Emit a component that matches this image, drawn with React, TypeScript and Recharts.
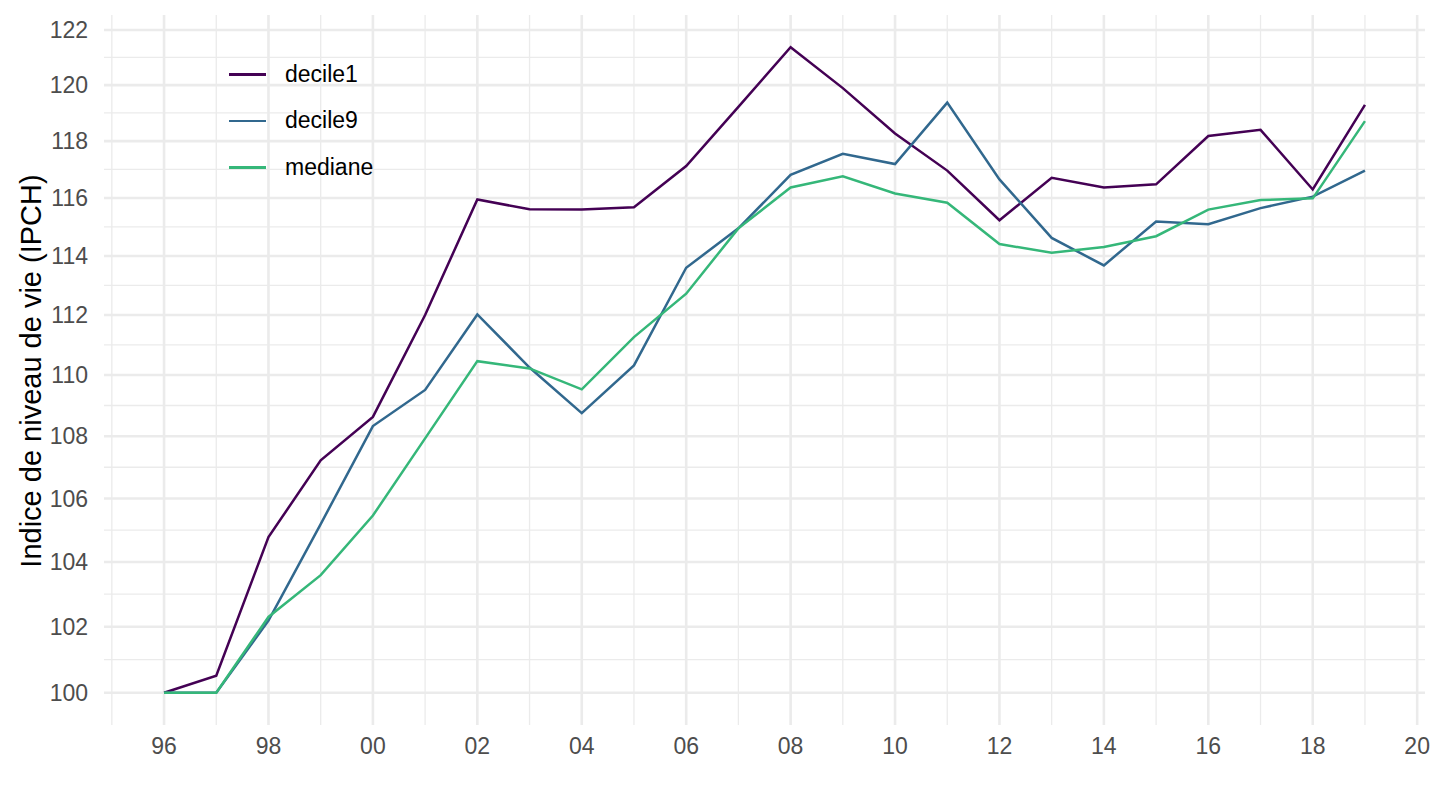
import { LineChart, Line, XAxis, YAxis, CartesianGrid, Label } from 'recharts';

const years = [1996, 1997, 1998, 1999, 2000, 2001, 2002, 2003, 2004, 2005, 2006, 2007, 2008, 2009, 2010, 2011, 2012, 2013, 2014, 2015, 2016, 2017, 2018, 2019];

const decile1 = [100, 100.51, 104.78, 107.22, 108.63, 112.0, 115.95, 115.61, 115.6, 115.68, 117.12, 119.22, 121.37, 119.89, 118.27, 116.96, 115.23, 116.71, 116.37, 116.48, 118.18, 118.4, 116.3, 119.29];
const decile9 = [100, 100, 102.19, 105.19, 108.33, 109.51, 112.02, 110.25, 108.75, 110.32, 113.6, 114.95, 116.81, 117.55, 117.19, 119.37, 116.65, 114.62, 113.68, 115.19, 115.09, 115.65, 116.05, 116.96];
const mediane = [100, 100, 102.3, 103.59, 105.46, 107.93, 110.46, 110.22, 109.53, 111.26, 112.72, 114.95, 116.37, 116.76, 116.16, 115.84, 114.41, 114.11, 114.31, 114.68, 115.6, 115.93, 115.99, 118.71];

const xTicks = [1996, 1998, 2000, 2002, 2004, 2006, 2008, 2010, 2012, 2014, 2016, 2018, 2020];
const xMinor = [1995, 1997, 1999, 2001, 2003, 2005, 2007, 2009, 2011, 2013, 2015, 2017, 2019];
const yTicks = [100, 102, 104, 106, 108, 110, 112, 114, 116, 118, 120, 122];
const yMinor = [101, 103, 105, 107, 109, 111, 113, 115, 117, 119, 121];

const series = [
  { key: 'decile1', color: '#440154' },
  { key: 'decile9', color: '#31688E' },
  { key: 'mediane', color: '#35B779' },
];

const data = years.map((year, i) => ({
  year,
  decile1: decile1[i],
  decile9: decile9[i],
  mediane: mediane[i],
}));

const font = '"Liberation Sans", Arial, Helvetica, sans-serif';

// legend sits inside the panel, top-left, like ggplot's legend.position
function LegendBox() {
  return (
    <div style={{ position: 'absolute', left: 229, top: 51, fontFamily: font, fontSize: 23, color: '#000' }}>
      {series.map((s) => (
        <div key={s.key} style={{ display: 'flex', alignItems: 'center', height: 46.5 }}>
          <div style={{ width: 37, height: 2.5, background: s.color, marginRight: 19 }} />
          <span>{s.key}</span>
        </div>
      ))}
    </div>
  );
}

export default function App() {
  return (
    <div style={{ position: 'absolute', left: 0, top: 0, width: 1440, height: 810, background: '#fff' }}>
      <LineChart width={1440} height={810} data={data} margin={{ top: 15, right: 15, bottom: 0, left: 0 }}>
        <CartesianGrid stroke="#EBEBEB" strokeWidth={1.3} horizontalValues={yMinor} verticalValues={xMinor} />
        <CartesianGrid stroke="#EBEBEB" strokeWidth={2.6} horizontalValues={yTicks} verticalValues={xTicks} />
        <XAxis
          dataKey="year"
          type="number"
          domain={[1994.85, 2020.15]}
          ticks={xTicks}
          allowDataOverflow
          tickFormatter={(v) => String(v).slice(2)}
          axisLine={false}
          tickLine={false}
          tickSize={0}
          tickMargin={13}
          height={85}
          tick={{ fill: '#4D4D4D', fontSize: 23, fontFamily: font }}
        />
        <YAxis
          type="number"
          scale="log"
          domain={[99.036, 122.55]}
          ticks={yTicks}
          allowDataOverflow
          axisLine={false}
          tickLine={false}
          tickSize={0}
          tickMargin={16}
          width={104}
          tick={{ fill: '#4D4D4D', fontSize: 23, fontFamily: font }}
        >
          <Label
            content={() => (
              <text
                x={41}
                y={371}
                transform="rotate(-90, 41, 371)"
                textAnchor="middle"
                fontSize={29}
                fontFamily={font}
                fill="#000"
              >
                Indice de niveau de vie (IPCH)
              </text>
            )}
          />
        </YAxis>
        {series.map((s) => (
          <Line
            key={s.key}
            type="linear"
            dataKey={s.key}
            stroke={s.color}
            strokeWidth={2.5}
            dot={false}
            isAnimationActive={false}
          />
        ))}
      </LineChart>
      <LegendBox />
    </div>
  );
}
